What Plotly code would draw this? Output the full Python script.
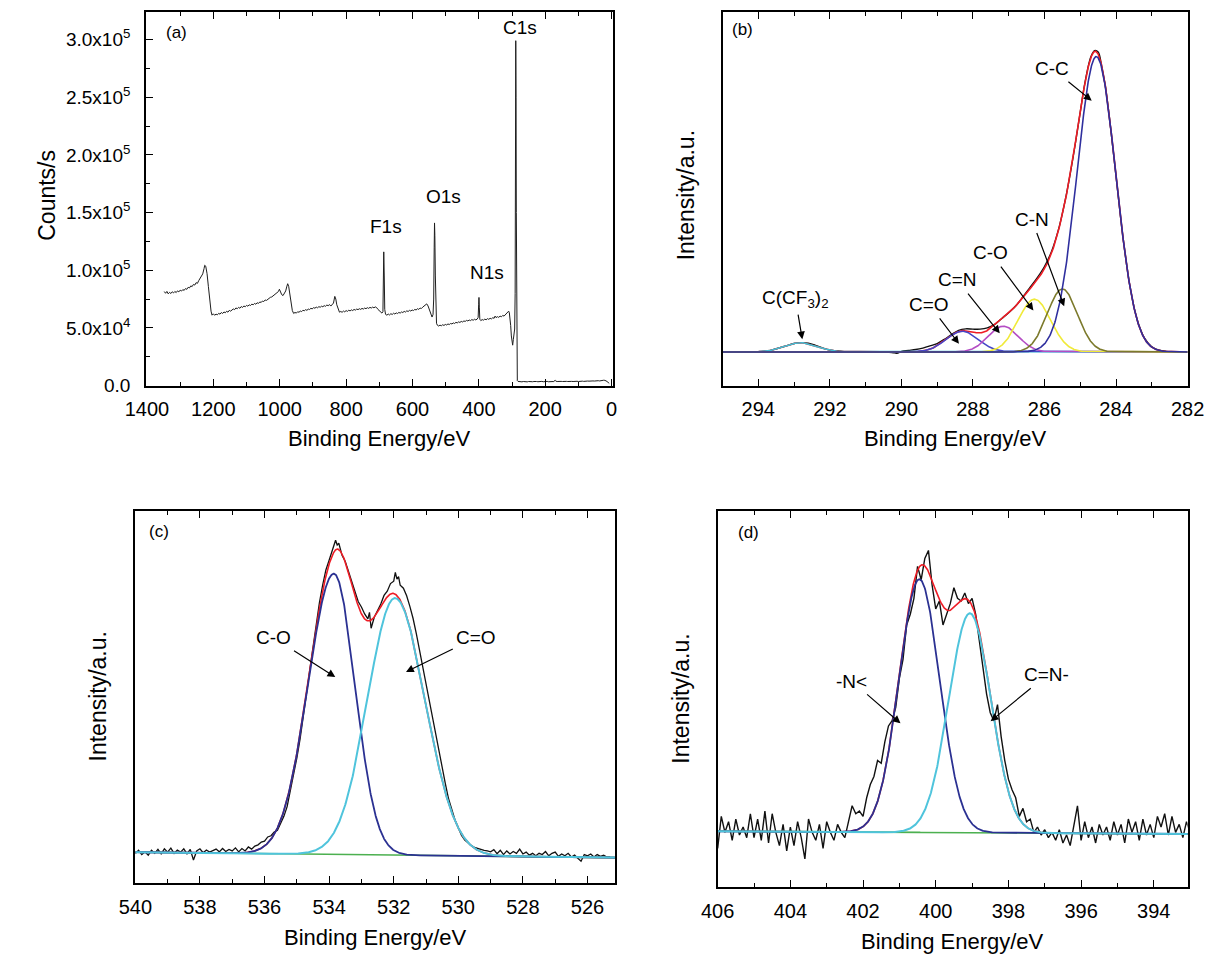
import numpy as np
import plotly.graph_objects as go

FONT = "Liberation Sans, Arial, sans-serif"

# ---------------- (a) survey spectrum: (binding energy eV, kcounts/s) ----------------
survey_points = [
    (1348, 81.5), (1344, 80.0), (1340, 81.6), (1336, 79.5), (1332, 80.8), (1328, 79.8), (1324, 81.3),
    (1320, 80.3), (1316, 81.6), (1312, 80.6), (1308, 82.1), (1304, 81.2), (1300, 82.7), (1296, 81.9),
    (1292, 83.2), (1288, 82.5), (1284, 84.1), (1280, 83.4), (1276, 85.2), (1272, 84.6), (1268, 86.4),
    (1264, 85.8), (1260, 87.7), (1256, 87.1), (1252, 89.2), (1248, 88.6), (1244, 91.0), (1240, 92.6),
    (1236, 94.3), (1232, 96.8), (1228, 101.5), (1226, 104.3), (1223, 103.5), (1219, 97.0), (1215, 86.0),
    (1211, 74.0), (1207, 64.5), (1204, 61.0), (1200, 62.2), (1196, 60.9), (1192, 62.0), (1188, 61.3),
    (1184, 62.6), (1180, 61.9), (1176, 63.3), (1172, 62.5), (1168, 63.8), (1164, 63.1), (1160, 64.4),
    (1156, 63.6), (1152, 65.2), (1148, 64.5), (1144, 65.6), (1140, 66.4), (1136, 65.8), (1132, 67.3),
    (1128, 66.6), (1124, 67.8), (1120, 67.0), (1116, 68.5), (1112, 67.7), (1108, 69.0), (1104, 68.3),
    (1100, 69.5), (1096, 68.8), (1092, 70.0), (1088, 69.4), (1084, 70.6), (1080, 70.0), (1076, 71.2),
    (1072, 70.5), (1068, 71.8), (1064, 71.2), (1060, 72.5), (1056, 72.0), (1052, 73.3), (1048, 72.8),
    (1044, 74.2), (1040, 73.8), (1036, 75.0), (1032, 75.4), (1028, 76.5), (1024, 76.8), (1020, 77.8),
    (1016, 78.2), (1012, 79.5), (1008, 80.0), (1004, 81.5), (1001, 83.5), (998, 81.0), (994, 78.8),
    (990, 78.0), (986, 79.5), (982, 82.0), (979, 85.5), (976, 88.3), (973, 86.0), (970, 80.0),
    (966, 71.0), (962, 65.0), (958, 62.5), (954, 63.4), (950, 62.8), (946, 64.0), (942, 63.5),
    (938, 64.6), (934, 64.1), (930, 65.3), (926, 64.8), (922, 65.8), (918, 65.2), (914, 66.3),
    (910, 65.9), (906, 67.0), (902, 66.4), (898, 67.6), (894, 67.0), (890, 68.0), (886, 67.4),
    (882, 68.4), (878, 67.9), (874, 68.8), (870, 68.3), (866, 69.3), (862, 68.7), (858, 69.8),
    (854, 69.2), (850, 70.2), (846, 68.9), (842, 69.8), (838, 71.5), (834, 77.3), (831, 75.0),
    (828, 70.0), (824, 66.0), (820, 63.6), (816, 64.2), (812, 63.5), (808, 64.6), (804, 63.9),
    (800, 65.0), (796, 64.3), (792, 65.3), (788, 64.7), (784, 65.6), (780, 65.0), (776, 66.0),
    (772, 65.4), (768, 66.3), (764, 65.8), (760, 66.6), (756, 66.0), (752, 66.9), (748, 66.3),
    (744, 67.2), (740, 66.6), (736, 67.5), (732, 66.9), (728, 67.8), (724, 67.2), (720, 68.0),
    (716, 67.4), (712, 68.2), (708, 67.6), (704, 66.0), (700, 64.8), (696, 63.5), (692, 62.8),
    (689, 64.0), (687.5, 90.0), (686.5, 115.9), (685, 95.0), (683.5, 66.0), (681, 61.7), (677, 61.0),
    (673, 62.0), (669, 61.2), (665, 62.3), (661, 61.6), (657, 62.7), (653, 62.0), (649, 63.0),
    (645, 62.4), (641, 63.4), (637, 62.8), (633, 63.8), (629, 63.3), (625, 64.3), (621, 63.7),
    (617, 64.8), (613, 64.2), (609, 65.2), (605, 64.6), (601, 65.5), (597, 65.0), (593, 66.0),
    (589, 65.5), (585, 66.6), (581, 66.0), (577, 67.2), (573, 66.8), (569, 68.0), (565, 68.8),
    (561, 70.2), (557, 70.8), (553, 69.0), (549, 66.0), (545, 62.0), (541, 59.4), (538, 61.5),
    (536, 75.0), (534.5, 120.0), (533.5, 141.0), (532.5, 130.0), (531, 95.0), (529.5, 65.0),
    (527.5, 54.0), (525, 52.3), (521, 51.6), (517, 52.4), (513, 51.8), (509, 52.7), (505, 52.1),
    (501, 53.0), (497, 52.5), (493, 53.4), (489, 52.9), (485, 53.8), (481, 53.4), (477, 54.3),
    (473, 53.8), (469, 54.8), (465, 54.3), (461, 55.2), (457, 54.7), (453, 55.6), (449, 55.1),
    (445, 56.0), (441, 55.6), (437, 56.5), (433, 56.0), (429, 56.8), (425, 56.3), (421, 57.2),
    (417, 56.6), (413, 57.5), (409, 56.9), (405, 57.6), (402, 59.0), (400.5, 70.0), (399.5, 76.4),
    (398.5, 68.0), (397, 57.5), (394, 56.3), (390, 57.2), (386, 56.7), (382, 57.6), (378, 57.0),
    (374, 58.0), (370, 57.4), (366, 58.3), (362, 57.8), (358, 58.8), (354, 58.3), (351, 60.2),
    (348, 58.9), (344, 59.7), (340, 59.1), (336, 60.2), (332, 59.6), (328, 60.8), (324, 60.2),
    (320, 61.5), (316, 62.2), (312, 63.4), (310, 64.5), (308, 63.0), (306, 59.0), (304, 52.0),
    (302, 43.0), (300, 36.0), (298, 35.0), (296, 40.0), (294, 46.0), (292, 49.0), (290.5, 80.0),
    (289.5, 200.0), (288.7, 299.0), (287.8, 250.0), (287, 150.0), (286, 50.0), (285, 12.0),
    (284, 4.2), (282, 3.6), (278, 3.3), (274, 3.6), (270, 3.2), (266, 3.5), (262, 3.3), (258, 3.6),
    (254, 3.2), (250, 3.5), (246, 3.3), (242, 3.6), (238, 3.3), (234, 3.5), (230, 3.2), (226, 3.5),
    (222, 3.3), (218, 3.6), (214, 3.4), (210, 3.6), (206, 3.3), (202, 3.5), (198, 3.4), (194, 3.6),
    (190, 3.3), (186, 3.5), (182, 3.4), (178, 3.6), (174, 3.5), (170, 4.6), (168, 3.8), (164, 3.5),
    (160, 3.7), (156, 3.4), (152, 3.6), (148, 3.5), (144, 3.7), (140, 3.4), (136, 3.6), (132, 3.5),
    (128, 3.7), (124, 3.4), (120, 3.6), (116, 3.5), (112, 3.7), (108, 3.5), (104, 3.7), (100, 3.5),
    (96, 3.8), (92, 3.6), (88, 3.8), (84, 3.6), (80, 3.9), (76, 3.7), (72, 3.9), (68, 3.8), (64, 4.0),
    (60, 3.8), (56, 4.0), (52, 3.9), (48, 4.1), (44, 3.9), (40, 4.2), (36, 4.0), (32, 4.3), (28, 4.4),
    (24, 4.6), (20, 4.5), (16, 4.0), (12, 3.3), (9, 2.2), (7, 1.8),
]
survey_xticks = [1400, 1200, 1000, 800, 600, 400, 200, 0]
survey_yticks = [0, 50, 100, 150, 200, 250, 300]
survey_yticktext = ["0.0", "5.0x10<sup>4</sup>", "1.0x10<sup>5</sup>", "1.5x10<sup>5</sup>",
                    "2.0x10<sup>5</sup>", "2.5x10<sup>5</sup>", "3.0x10<sup>5</sup>"]
survey_peak_names = ["C1s", "O1s", "F1s", "N1s"]
survey_peak_label_x = [275, 507, 680, 375]
survey_peak_label_y = [310.6, 164.0, 137.5, 97.8]

# ---------------- (b) C1s high resolution ----------------
c1s_points = [
    (293.9, 0.001), (293.8, 0.003), (293.6, 0.007), (293.4, 0.014), (293.2, 0.021), (293.0, 0.028),
    (292.8, 0.031), (292.6, 0.029), (292.4, 0.022), (292.2, 0.013), (292.0, 0.006), (291.8, 0.003),
    (291.6, 0.001), (291.2, 0.000), (290.8, 0.001), (290.4, 0.000), (290.2, -0.003), (290.1, -0.004),
    (290.0, 0.002), (289.8, 0.005), (289.6, 0.008), (289.4, 0.013), (289.2, 0.020), (289.0, 0.028),
    (288.8, 0.042), (288.6, 0.058), (288.4, 0.072), (288.2, 0.077), (288.0, 0.076), (287.8, 0.076),
    (287.6, 0.080), (287.4, 0.091), (287.2, 0.111), (287.0, 0.131), (286.8, 0.154), (286.6, 0.184),
    (286.4, 0.216), (286.2, 0.248), (286.0, 0.285), (285.8, 0.336), (285.6, 0.412), (285.4, 0.518),
    (285.2, 0.650), (285.0, 0.800), (284.9, 0.877), (284.8, 0.940), (284.7, 0.985), (284.6, 1.005),
    (284.5, 1.000), (284.4, 0.952), (284.3, 0.887), (284.2, 0.797), (284.0, 0.586), (283.8, 0.377),
    (283.6, 0.211), (283.4, 0.104), (283.2, 0.045), (283.0, 0.017), (282.8, 0.006), (282.6, 0.002),
    (282.4, 0.001), (282.2, 0.000), (282.05, 0.000),
]
c1s_names = ["C-C", "C-N", "C-O", "C=N", "C=O", "C(CF<sub>3</sub>)<sub>2</sub>"]
c1s_center = [284.55, 285.50, 286.28, 287.15, 288.30, 292.80]
c1s_height = [0.985, 0.210, 0.176, 0.086, 0.069, 0.031]
c1s_sigma = [0.54, 0.42, 0.45, 0.42, 0.45, 0.45]
c1s_colors = ["#2f2f9e", "#7c7a2c", "#f0ea3a", "#b44cc4", "#4646c8", "#42c0d6"]
c1s_label_x = [285.79, 286.36, 287.50, 288.44, 289.22, 292.96]
c1s_label_y = [0.945, 0.443, 0.330, 0.240, 0.157, 0.176]
c1s_arrow_head = [(284.68, 0.838), (285.45, 0.152), (286.31, 0.138), (287.25, 0.062), (288.39, 0.027), (292.77, 0.042)]

# ---------------- (c) O1s high resolution ----------------
o1s_points = [
    (540.0, -0.005), (539.9, 0.006), (539.8, -0.008), (539.7, 0.001), (539.6, -0.010), (539.5, 0.006),
    (539.4, -0.004), (539.3, 0.009), (539.2, -0.006), (539.1, 0.011), (539.0, 0.000), (538.9, 0.013),
    (538.8, -0.004), (538.7, 0.007), (538.6, 0.000), (538.5, 0.011), (538.4, -0.006), (538.3, 0.009),
    (538.2, -0.026), (538.1, 0.004), (538.0, 0.011), (537.9, -0.002), (537.8, 0.007), (537.7, 0.000),
    (537.6, 0.005), (537.5, 0.010), (537.4, 0.001), (537.3, 0.012), (537.2, 0.002), (537.1, 0.009),
    (537.0, 0.004), (536.9, 0.014), (536.8, 0.001), (536.7, 0.012), (536.6, 0.004), (536.5, 0.017),
    (536.4, 0.010), (536.3, 0.020), (536.2, 0.024), (536.1, 0.033), (536.0, 0.036), (535.9, 0.050),
    (535.8, 0.054), (535.7, 0.066), (535.6, 0.072), (535.5, 0.094), (535.4, 0.118), (535.3, 0.150),
    (535.2, 0.200), (535.1, 0.252), (535.0, 0.310), (534.9, 0.372), (534.8, 0.440), (534.7, 0.522),
    (534.6, 0.600), (534.5, 0.680), (534.4, 0.750), (534.3, 0.822), (534.2, 0.880), (534.1, 0.930),
    (534.0, 0.962), (533.9, 0.998), (533.8, 1.028), (533.75, 1.012), (533.7, 1.018), (533.6, 0.978),
    (533.5, 0.958), (533.4, 0.925), (533.3, 0.893), (533.2, 0.857), (533.1, 0.826), (533.0, 0.808),
    (532.9, 0.785), (532.8, 0.769), (532.75, 0.790), (532.7, 0.738), (532.6, 0.775), (532.5, 0.796),
    (532.4, 0.818), (532.3, 0.846), (532.2, 0.860), (532.1, 0.885), (532.0, 0.893), (531.95, 0.922),
    (531.9, 0.900), (531.85, 0.908), (531.8, 0.880), (531.7, 0.870), (531.6, 0.845), (531.5, 0.810),
    (531.4, 0.770), (531.3, 0.720), (531.2, 0.665), (531.1, 0.605), (531.0, 0.550), (530.9, 0.490),
    (530.8, 0.435), (530.7, 0.380), (530.6, 0.325), (530.5, 0.275), (530.4, 0.225), (530.3, 0.175),
    (530.2, 0.140), (530.1, 0.105), (530.0, 0.080), (529.9, 0.055), (529.8, 0.040), (529.7, 0.030),
    (529.6, 0.022), (529.5, 0.016), (529.4, 0.012), (529.3, 0.010), (529.2, 0.006), (529.1, 0.004),
    (529.0, 0.001), (528.9, 0.008), (528.8, -0.005), (528.7, 0.006), (528.6, -0.008), (528.5, 0.004),
    (528.4, -0.006), (528.3, 0.002), (528.2, -0.004), (528.1, 0.010), (528.0, -0.006), (527.9, 0.000),
    (527.8, -0.010), (527.7, -0.004), (527.6, -0.012), (527.5, -0.004), (527.4, -0.008), (527.3, 0.002),
    (527.2, -0.012), (527.1, -0.004), (527.0, 0.000), (526.9, -0.014), (526.8, -0.006), (526.7, -0.012),
    (526.6, -0.004), (526.5, -0.016), (526.4, -0.010), (526.3, -0.020), (526.2, -0.030), (526.1, -0.008),
    (526.0, -0.012), (525.9, -0.006), (525.8, -0.016), (525.7, -0.008), (525.6, -0.014), (525.5, -0.010),
    (525.4, -0.016), (525.3, -0.016),
]
o1s_names = ["C-O", "C=O"]
o1s_center = [533.85, 531.96]
o1s_height = [0.925, 0.847]
o1s_sigma_high = [0.80, 0.85]   # high binding-energy side
o1s_sigma_low = [0.65, 0.93]    # low binding-energy side
o1s_background_x = [540.0, 525.15]
o1s_background_y = [0.0, -0.018]
o1s_label_x = [535.72, 529.45]
o1s_label_y = [0.707, 0.707]
o1s_arrow_head = [(533.81, 0.577), (531.62, 0.594)]

# ---------------- (d) N1s high resolution ----------------
n1s_points = [
    (406.0, -0.06), (405.9, 0.06), (405.8, 0.00), (405.7, 0.04), (405.6, -0.03), (405.5, 0.05),
    (405.4, -0.01), (405.3, 0.02), (405.2, -0.02), (405.1, 0.07), (405.0, -0.02), (404.9, 0.05),
    (404.8, -0.03), (404.7, 0.08), (404.6, -0.04), (404.5, 0.07), (404.4, 0.00), (404.3, -0.05),
    (404.2, 0.03), (404.1, -0.07), (404.0, 0.02), (403.9, -0.05), (403.8, 0.04), (403.7, -0.02),
    (403.6, -0.10), (403.5, 0.05), (403.4, 0.00), (403.3, -0.03), (403.2, 0.03), (403.1, -0.06),
    (403.0, 0.04), (402.9, 0.00), (402.8, -0.03), (402.7, 0.03), (402.6, 0.00), (402.5, -0.02),
    (402.4, 0.04), (402.3, 0.10), (402.2, 0.07), (402.1, 0.08), (402.0, 0.06), (401.9, 0.13),
    (401.8, 0.18), (401.7, 0.21), (401.6, 0.27), (401.5, 0.26), (401.4, 0.34), (401.3, 0.40),
    (401.2, 0.42), (401.1, 0.47), (401.0, 0.58), (400.9, 0.65), (400.8, 0.78), (400.7, 0.82),
    (400.6, 0.88), (400.5, 1.00), (400.4, 0.95), (400.3, 1.03), (400.2, 1.06), (400.1, 0.93),
    (400.0, 0.84), (399.9, 0.87), (399.8, 0.78), (399.7, 0.82), (399.6, 0.86), (399.5, 0.92),
    (399.4, 0.88), (399.3, 0.87), (399.2, 0.90), (399.1, 0.86), (399.0, 0.88), (398.9, 0.82),
    (398.8, 0.72), (398.7, 0.60), (398.6, 0.52), (398.5, 0.45), (398.4, 0.42), (398.3, 0.48),
    (398.2, 0.36), (398.1, 0.27), (398.0, 0.20), (397.9, 0.16), (397.8, 0.13), (397.7, 0.06),
    (397.6, 0.09), (397.5, 0.04), (397.4, 0.05), (397.3, 0.00), (397.2, 0.02), (397.1, -0.01),
    (397.0, 0.01), (396.9, -0.02), (396.8, 0.00), (396.7, -0.03), (396.6, 0.01), (396.5, -0.04),
    (396.4, -0.01), (396.3, -0.05), (396.2, 0.03), (396.1, 0.10), (396.0, -0.03), (395.9, 0.04),
    (395.8, -0.02), (395.7, 0.02), (395.6, -0.04), (395.5, 0.03), (395.4, -0.01), (395.3, 0.02),
    (395.2, -0.03), (395.1, 0.04), (395.0, -0.01), (394.9, 0.03), (394.8, -0.04), (394.7, 0.05),
    (394.6, 0.00), (394.5, 0.04), (394.4, -0.03), (394.3, 0.05), (394.2, -0.01), (394.1, 0.03),
    (394.0, -0.02), (393.9, 0.06), (393.8, 0.02), (393.7, 0.07), (393.6, -0.01), (393.5, 0.06),
    (393.4, 0.00), (393.3, 0.03), (393.2, -0.02), (393.1, 0.04), (393.0, 0.00),
]
n1s_names = ["-N<", "C=N-"]
n1s_center = [400.45, 399.06]
n1s_height = [0.952, 0.825]
n1s_sigma = [0.56, 0.58]
n1s_background_x = [406.0, 393.07]
n1s_background_y = [0.004, -0.006]
n1s_label_x = [402.31, 396.94]
n1s_label_y = [0.569, 0.592]
n1s_arrow_head = [(400.97, 0.41), (398.49, 0.418)]

# ---------------- helpers ----------------
def peak(x, c, h, s_high, s_low):
    s = np.where(x >= c, s_high, s_low)
    return h * np.exp(-(x - c) ** 2 / (2 * s ** 2))


def bg_line(x, bx, by):
    if bx[0] > bx[1]:
        return np.interp(x, bx[::-1], by[::-1])
    return np.interp(x, bx, by)


fig = go.Figure()


def add_line(x, y, color, width, xa, ya, shape="linear"):
    fig.add_trace(go.Scatter(x=x, y=y, mode="lines", line=dict(color=color, width=width, shape=shape),
                             xaxis=xa, yaxis=ya, showlegend=False, hoverinfo="skip"))


# (a)
sx, sy = zip(*survey_points)
add_line(list(sx), list(sy), "#1e1e1e", 1.0, "x", "y")

# (b)
bx, by = zip(*c1s_points)
grid_b = np.linspace(282.0, 295.0, 1301)
comps_b = [peak(grid_b, c, h, s, s) for c, h, s in zip(c1s_center, c1s_height, c1s_sigma)]
add_line(list(bx), list(by), "#111111", 1.4, "x2", "y2", shape="spline")
add_line(grid_b, np.sum(comps_b, axis=0), "#ee1c25", 1.6, "x2", "y2")
for idx in [5, 4, 3, 2, 1, 0]:
    add_line(grid_b, comps_b[idx], c1s_colors[idx], 1.6, "x2", "y2")

# (c)
cx, cy = zip(*o1s_points)
grid_c = np.linspace(525.15, 540.0, 1486)
bg_c = bg_line(grid_c, o1s_background_x, o1s_background_y)
comps_c = [peak(grid_c, c, h, sh, sl) for c, h, sh, sl in zip(o1s_center, o1s_height, o1s_sigma_high, o1s_sigma_low)]
add_line(list(cx), list(cy), "#111111", 1.3, "x3", "y3")
add_line(grid_c, bg_c + comps_c[0] + comps_c[1], "#ee1c25", 1.6, "x3", "y3")
add_line(grid_c, bg_c, "#4cb050", 1.6, "x3", "y3")
add_line(grid_c, bg_c + comps_c[0], "#2b3192", 1.8, "x3", "y3")
add_line(grid_c, bg_c + comps_c[1], "#4fc4dc", 2.0, "x3", "y3")

# (d)
dx, dy = zip(*n1s_points)
grid_d = np.linspace(393.0, 406.0, 1301)
bg_d = bg_line(grid_d, n1s_background_x, n1s_background_y)
comps_d = [peak(grid_d, c, h, s, s) for c, h, s in zip(n1s_center, n1s_height, n1s_sigma)]
add_line(list(dx), list(dy), "#111111", 1.4, "x4", "y4")
add_line(grid_d, bg_d + comps_d[0] + comps_d[1], "#ee1c25", 1.6, "x4", "y4")
add_line(grid_d, bg_d, "#4cb050", 1.6, "x4", "y4")
add_line(grid_d, bg_d + comps_d[0], "#2b3192", 1.8, "x4", "y4")
add_line(grid_d, bg_d + comps_d[1], "#4fc4dc", 2.0, "x4", "y4")


# ---------------- axes ----------------
def xaxis_cfg(domain, rng, anchor, tickvals, minor_dtick):
    return dict(domain=domain, range=rng, anchor=anchor, showline=True, linecolor="black", linewidth=1.6,
                mirror="ticks", ticks="inside", ticklen=7, tickwidth=1.3, tickcolor="black",
                tickmode="array", tickvals=tickvals, ticklabelstandoff=5,
                tickfont=dict(size=20, color="black", family=FONT), showgrid=False, zeroline=False,
                minor=dict(ticks="inside", ticklen=4, tickwidth=1.1, tickcolor="black", dtick=minor_dtick,
                           showgrid=False))


def yaxis_plain(domain, rng, anchor):
    return dict(domain=domain, range=rng, anchor=anchor, showline=True, linecolor="black", linewidth=1.6,
                mirror=True, ticks="", showticklabels=False, showgrid=False, zeroline=False)


top_y = [0.59417, 0.98751]
bot_c_y = [0.07076, 0.46202]
bot_d_y = [0.06660, 0.46202]

layout_axes = dict(
    xaxis=xaxis_cfg([0.10548, 0.49959], [1403, -4.4], "y", survey_xticks, 100),
    yaxis=dict(domain=top_y, range=[0, 324], anchor="x", showline=True, linecolor="black", linewidth=1.6,
               mirror=True, ticks="inside", ticklen=7, tickwidth=1.3, tickcolor="black",
               tickmode="array", tickvals=survey_yticks, ticktext=survey_yticktext, ticklabelstandoff=10,
               tickfont=dict(size=19, color="black", family=FONT), showgrid=False, zeroline=False,
               minor=dict(ticks="inside", ticklen=4, tickwidth=1.1, tickcolor="black", dtick=25)),
    xaxis2=xaxis_cfg([0.59199, 0.98446], [295, 282], "y2", [294, 292, 290, 288, 286, 284, 282], 1),
    yaxis2=yaxis_plain(top_y, [-0.112, 1.134], "x2"),
    xaxis3=xaxis_cfg([0.09648, 0.50123], [540, 525.15], "y3", [540, 538, 536, 534, 532, 530, 528, 526], 1),
    yaxis3=yaxis_plain(bot_c_y, [-0.101, 1.124], "x3"),
    xaxis4=xaxis_cfg([0.58790, 0.98446], [406, 393.07], "y4", [406, 404, 402, 400, 398, 396, 394], 1),
    yaxis4=yaxis_plain(bot_d_y, [-0.2045, 1.208], "x4"),
)

annotations = []


def text_ann(x, y, text, xref, yref, size=19, angle=0):
    annotations.append(dict(x=x, y=y, xref=xref, yref=yref, text=text, showarrow=False,
                            xanchor="center", yanchor="middle", textangle=angle,
                            font=dict(size=size, color="black", family=FONT)))


def label_arrow(label_xy, head, text, xa, ya, size=19):
    # label text sits at the arrow tail; the arrow starts at the text box edge
    annotations.append(dict(x=head[0], y=head[1], ax=label_xy[0], ay=label_xy[1], xref=xa, yref=ya,
                            axref=xa, ayref=ya, text=text, showarrow=True, arrowhead=2, arrowsize=1.3,
                            arrowwidth=1.2, arrowcolor="black", standoff=0, startstandoff=2,
                            font=dict(size=size, color="black", family=FONT)))


# panel letters
text_ann(0.065, 0.944, "(a)", "x domain", "y domain", size=17)
text_ann(0.042, 0.952, "(b)", "x2 domain", "y2 domain", size=17)
text_ann(0.050, 0.944, "(c)", "x3 domain", "y3 domain", size=17)
text_ann(0.065, 0.944, "(d)", "x4 domain", "y4 domain", size=17)

# (a) peak labels
for name, lx, ly in zip(survey_peak_names, survey_peak_label_x, survey_peak_label_y):
    text_ann(lx, ly, name, "x", "y", size=19)

# (b)
for name, lx, ly, head in zip(c1s_names, c1s_label_x, c1s_label_y, c1s_arrow_head):
    label_arrow((lx, ly), head, name, "x2", "y2")

# (c)
for name, lx, ly, head in zip(o1s_names, o1s_label_x, o1s_label_y, o1s_arrow_head):
    label_arrow((lx, ly), head, name, "x3", "y3")

# (d)
for name, lx, ly, head in zip(n1s_names, n1s_label_x, n1s_label_y, n1s_arrow_head):
    label_arrow((lx, ly), head, name.replace("<", "&lt;"), "x4", "y4")

# axis titles
text_ann(0.3025, 0.538, "Binding Energy/eV", "paper", "paper", size=22)
text_ann(0.7882, 0.538, "Binding Energy/eV", "paper", "paper", size=22)
text_ann(0.2989, 0.0135, "Binding Energy/eV", "paper", "paper", size=22)
text_ann(0.7862, 0.0094, "Binding Energy/eV", "paper", "paper", size=22)
text_ann(0.022, 0.794, "Counts/s", "paper", "paper", size=23, angle=-90)
text_ann(0.5609, 0.794, "Intensity/a.u.", "paper", "paper", size=23, angle=-90)
text_ann(0.0646, 0.2664, "Intensity/a.u.", "paper", "paper", size=23, angle=-90)
text_ann(0.5568, 0.2643, "Intensity/a.u.", "paper", "paper", size=23, angle=-90)

fig.update_layout(
    width=1223, height=961, autosize=False,
    margin=dict(l=0, r=0, t=0, b=0),
    paper_bgcolor="white", plot_bgcolor="white",
    font=dict(family=FONT, color="black"),
    annotations=annotations,
    **layout_axes,
)

fig.write_html("out.html", config={"displayModeBar": False},
               post_script="document.body.style.margin='0';document.body.style.padding='0';")
